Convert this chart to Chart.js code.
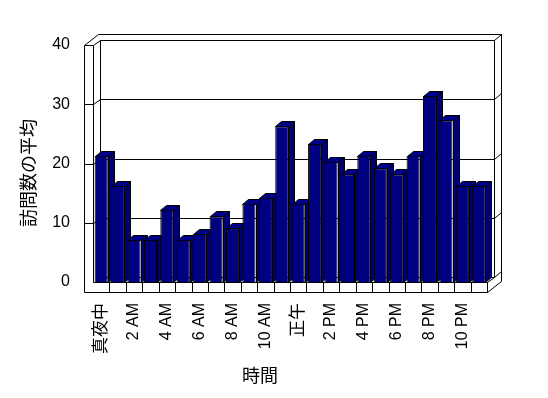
<!DOCTYPE html>
<html>
<head>
<meta charset="utf-8">
<script src="https://cdn.jsdelivr.net/npm/chart.js@4.4.0/dist/chart.umd.min.js"></script>
<style>
  body { margin: 0; background: #fff; }
</style>
</head>
<body>
<canvas id="houmon" width="548" height="398"></canvas>
<script>
const hours = [
  '真夜中', '1 AM', '2 AM', '3 AM', '4 AM', '5 AM', '6 AM', '7 AM', '8 AM', '9 AM', '10 AM', '11 AM',
  '正午', '1 PM', '2 PM', '3 PM', '4 PM', '5 PM', '6 PM', '7 PM', '8 PM', '9 PM', '10 PM', '11 PM'
];
const visits = [21.3, 16.2, 7.1, 7.1, 12.2, 7.1, 8.1, 11.1, 9.1, 13.2, 14.2, 26.3,
                13.2, 23.3, 20.3, 18.2, 21.3, 19.2, 18.2, 21.3, 31.4, 27.3, 16.2, 16.2];
const yTicks = [0, 10, 20, 30, 40];
const xTitle = '時間';
const yTitle = '訪問数の平均';

const FONT = '"Liberation Sans", "Noto Sans CJK JP", sans-serif';

// depth of the bars and of the box (pixels)
const BAR_DX = 6, BAR_DY = 5;
const IN_DX = 7, IN_DY = 5;
const OUT_DX = 14, OUT_DY = 11;
const WALL = 9, FLOOR = 10;

function line(ctx, x1, y1, x2, y2) {
  ctx.beginPath();
  ctx.moveTo(Math.round(x1) + 0.5, Math.round(y1) + 0.5);
  ctx.lineTo(Math.round(x2) + 0.5, Math.round(y2) + 0.5);
  ctx.stroke();
}

function poly(ctx, pts, fill) {
  ctx.beginPath();
  pts.forEach((p, i) => {
    const px = Math.round(p[0]) + 0.5, py = Math.round(p[1]) + 0.5;
    if (i === 0) ctx.moveTo(px, py); else ctx.lineTo(px, py);
  });
  ctx.closePath();
  ctx.fillStyle = fill;
  ctx.fill();
  ctx.stroke();
}

const box3d = {
  id: 'box3d',
  beforeDatasetsDraw(chart) {
    const { ctx, chartArea: a, scales: { x, y } } = chart;
    const L = a.left, R = a.right;
    const T = y.getPixelForValue(yTicks[yTicks.length - 1]);
    const B = y.getPixelForValue(0);
    ctx.save();
    ctx.strokeStyle = '#000';
    ctx.lineWidth = 1;

    // back wall, inner face
    line(ctx, L + IN_DX, T - IN_DY, R + IN_DX, T - IN_DY);
    line(ctx, L + IN_DX, T - IN_DY, L + IN_DX, B - IN_DY);
    line(ctx, R + IN_DX, T - IN_DY, R + IN_DX, B - IN_DY);
    // back wall, outer edge
    line(ctx, L - WALL + OUT_DX, T - OUT_DY, R + OUT_DX, T - OUT_DY);
    line(ctx, R + OUT_DX, T - OUT_DY, R + OUT_DX, B + FLOOR - OUT_DY);
    line(ctx, R + IN_DX, T - IN_DY, R + OUT_DX, T - OUT_DY);

    // left wall
    line(ctx, L - WALL, T, L - WALL, B + FLOOR);
    line(ctx, L, T, L, B);
    line(ctx, L - WALL, T, L, T);
    line(ctx, L - WALL, T, L - WALL + OUT_DX, T - OUT_DY);
    line(ctx, L, T, L + IN_DX, T - IN_DY);

    // gridlines on the walls
    yTicks.forEach(v => {
      const yf = y.getPixelForValue(v);
      const yb = yf - IN_DY;
      if (v > 0 && v < yTicks[yTicks.length - 1]) {
        line(ctx, L + IN_DX, yb, R + IN_DX, yb);
        line(ctx, L - WALL, yf, L, yf);
        line(ctx, L, yf, L + IN_DX, yb);
      }
      if (v < yTicks[yTicks.length - 1]) {
        line(ctx, R + IN_DX, yb, R + OUT_DX, yb - (OUT_DY - IN_DY));
      }
    });

    // floor
    line(ctx, L + IN_DX, B - IN_DY, R + IN_DX, B - IN_DY);
    line(ctx, L - WALL, B + FLOOR, R, B + FLOOR);
    line(ctx, R, B, R, B + FLOOR);
    line(ctx, R, B + FLOOR, R + OUT_DX, B + FLOOR - OUT_DY);
    line(ctx, R, B, R + IN_DX, B - IN_DY);
    for (let i = 1; i < hours.length; i++) {
      const bx = (x.getPixelForValue(i - 1) + x.getPixelForValue(i)) / 2;
      line(ctx, bx, B, bx, B + FLOOR);
    }

    // bar tops and sides
    const meta = chart.getDatasetMeta(0);
    meta.data.forEach(el => {
      const p = el.getProps(['x', 'y', 'base', 'width'], true);
      const x1 = p.x - p.width / 2, x2 = p.x + p.width / 2;
      poly(ctx, [[x2, p.y], [x2 + BAR_DX, p.y - BAR_DY], [x2 + BAR_DX, p.base - BAR_DY], [x2, p.base]], '#000070');
      poly(ctx, [[x1, p.y], [x2, p.y], [x2 + BAR_DX, p.y - BAR_DY], [x1 + BAR_DX, p.y - BAR_DY]], '#00008a');
    });
    ctx.restore();
  },
  afterDatasetsDraw(chart) {
    const { ctx, chartArea: a, scales: { y } } = chart;
    const B = y.getPixelForValue(0);
    ctx.save();
    ctx.strokeStyle = '#000';
    ctx.lineWidth = 1;
    line(ctx, a.left, B, a.right, B);
    ctx.restore();
  },
  afterDraw(chart) {
    const { ctx } = chart;
    ctx.save();
    ctx.fillStyle = '#000';
    ctx.font = '18px ' + FONT;
    ctx.textAlign = 'center';
    ctx.textBaseline = 'middle';
    ctx.fillText(xTitle, 260, 377);
    ctx.translate(30, 173);
    ctx.rotate(-Math.PI / 2);
    ctx.fillText(yTitle, 0, 0);
    ctx.restore();
  }
};

const chart = new Chart(document.getElementById('houmon'), {
  type: 'bar',
  data: {
    labels: hours,
    datasets: [{
      label: yTitle,
      data: visits,
      backgroundColor: '#000080',
      borderColor: '#000',
      borderWidth: 1,
      barPercentage: 0.8,
      categoryPercentage: 1
    }]
  },
  options: {
    responsive: false,
    animation: false,
    layout: { padding: { top: 45, right: 61, left: 0, bottom: 0 } },
    plugins: {
      legend: { display: false },
      tooltip: { enabled: false }
    },
    scales: {
      x: {
        grid: { display: false, drawTicks: false },
        border: { display: false },
        ticks: {
          autoSkip: false,
          minRotation: 90,
          maxRotation: 90,
          padding: 21,
          color: '#000',
          font: c => ({ family: FONT, size: /[A-Z]/.test(hours[c.index] || 'A') ? 16 : 17 }),
          callback: (v, i) => (i % 2 === 0 ? hours[i] : '')
        },
        afterFit: s => { s.height = 116; }
      },
      y: {
        min: 0,
        max: 40,
        grid: { display: false, drawTicks: false },
        border: { display: false },
        ticks: {
          stepSize: 10,
          padding: 23,
          color: '#000',
          font: { family: FONT, size: 16 }
        },
        afterFit: s => { s.width = 93; }
      }
    }
  },
  plugins: [box3d]
});
</script>
</body>
</html>
